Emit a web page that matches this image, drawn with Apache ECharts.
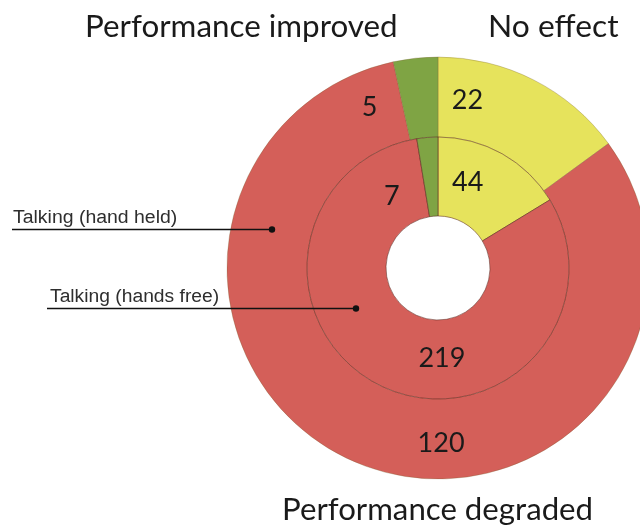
<!DOCTYPE html>
<html><head><meta charset="utf-8">
<script src="https://cdn.jsdelivr.net/npm/echarts@6/dist/echarts.min.js"></script>
<style>html,body{margin:0;padding:0;background:#fff}#c{width:640px;height:531px}</style>
</head><body><div id="c"></div>
<script>
var categories = ['No effect', 'Performance degraded', 'Performance improved'];
var seriesNames = ['Talking (hand held)', 'Talking (hands free)'];
var handHeld = [22, 120, 5];
var handsFree = [44, 219, 7];
var colors = ['#e6e35c', '#d45f59', '#7fa444'];

var cx = 438, cy = 268;
// label polar placement [angle from 12 o'clock in degrees, radius px]
var outerLabelPos = [[10, 170], [179, 175], [-23, 175]];
var innerLabelPos = [[19, 91], [177.5, 90], [-33, 85]];

function mk(vals) {
  return vals.map(function (v, i) {
    return { name: categories[i], value: v, itemStyle: { color: colors[i] } };
  });
}
function layoutFn(pos) {
  return function (p) {
    var a = pos[p.dataIndex][0] * Math.PI / 180, r = pos[p.dataIndex][1];
    return { x: cx + r * Math.sin(a), y: cy - r * Math.cos(a), align: 'center', verticalAlign: 'middle' };
  };
}
var numLabel = { show: true, position: 'inside', formatter: '{c}', color: '#1a1a1a', fontSize: 27, fontFamily: 'Lato, "Open Sans", sans-serif' };
var titleFont = 'Lato, sans-serif';
var annFont = '"Liberation Sans", Arial, sans-serif';

var chart = echarts.init(document.getElementById('c'), null, { renderer: 'canvas' });
chart.setOption({
  animation: false,
  series: [
    {
      name: seriesNames[0], type: 'pie', center: [cx, cy], radius: [131, 211], startAngle: 90, clockwise: true,
      data: mk(handHeld), label: numLabel, labelLine: { show: false },
      itemStyle: { borderColor: 'rgba(120,100,50,0.45)', borderWidth: 0.7 },
      labelLayout: layoutFn(outerLabelPos), silent: true
    },
    {
      name: seriesNames[1], type: 'pie', center: [cx, cy], radius: [52, 131], startAngle: 90, clockwise: true,
      data: mk(handsFree), label: numLabel, labelLine: { show: false },
      itemStyle: { borderColor: 'rgba(90,40,30,0.6)', borderWidth: 0.9 },
      labelLayout: layoutFn(innerLabelPos), silent: true
    }
  ],
  graphic: [
    { type: 'text', x: 85, y: 12, scaleX: 1.045, style: { text: categories[2], fontSize: 30, fontFamily: titleFont, fill: '#1a1a1a', textVerticalAlign: 'top' } },
    { type: 'text', x: 488, y: 12, scaleX: 1.06, style: { text: categories[0], fontSize: 30, fontFamily: titleFont, fill: '#1a1a1a', textVerticalAlign: 'top' } },
    { type: 'text', x: 282, y: 495, scaleX: 1.04, style: { text: categories[1], fontSize: 30, fontFamily: titleFont, fill: '#1a1a1a', textVerticalAlign: 'top' } },
    { type: 'text', x: 13, y: 209, scaleX: 1.08, style: { text: seriesNames[0], fontSize: 18, fontFamily: annFont, fill: '#2e2e2e', textVerticalAlign: 'top' } },
    { type: 'text', x: 50, y: 288, scaleX: 1.07, style: { text: seriesNames[1], fontSize: 18, fontFamily: annFont, fill: '#2e2e2e', textVerticalAlign: 'top' } },
    { type: 'line', shape: { x1: 12, y1: 229.5, x2: 272, y2: 229.5 }, style: { stroke: '#111', lineWidth: 1.6 }, z: 10 },
    { type: 'circle', shape: { cx: 272, cy: 229.5, r: 3.2 }, style: { fill: '#111' }, z: 10 },
    { type: 'line', shape: { x1: 47, y1: 308.5, x2: 356, y2: 308.5 }, style: { stroke: '#111', lineWidth: 1.6 }, z: 10 },
    { type: 'circle', shape: { cx: 356, cy: 308.5, r: 3.2 }, style: { fill: '#111' }, z: 10 }
  ]
});
</script></body></html>
